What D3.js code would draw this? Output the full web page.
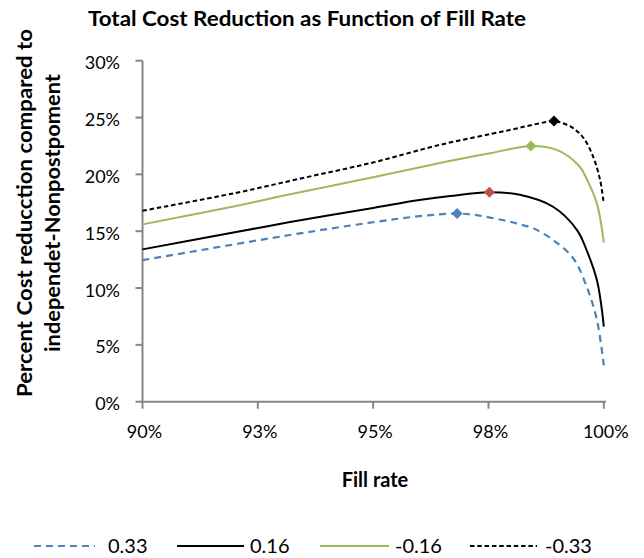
<!DOCTYPE html>
<html>
<head>
<meta charset="utf-8">
<script src="https://cdn.jsdelivr.net/npm/d3@7/dist/d3.min.js"></script>
<style>
  html, body { margin: 0; padding: 0; background: #fff; }
  svg { display: block; font-family: Lato, "Open Sans", sans-serif; }
</style>
</head>
<body>
<svg id="chart" width="644" height="558"></svg>
<script>
// Fill rate (x) and percent cost reduction (y, in %) for each tradeoff parameter
const fill033  = [0.900, 0.9325, 0.9493, 0.9608, 0.9682, 0.9717, 0.9753, 0.9790, 0.9818, 0.9847, 0.9891, 0.9934, 0.9963, 0.9985, 1.000];
const val033   = [12.45, 14.7, 15.75, 16.35, 16.55, 16.45, 16.2, 15.9, 15.6, 15.25, 14.2, 12.6, 10.1, 7.2, 3.2];

const fill016  = [0.900, 0.920, 0.932, 0.950, 0.960, 0.9667, 0.9752, 0.9818, 0.9890, 0.9942, 0.9964, 0.9985, 0.9995, 1.000];
const val016   = [13.4, 14.9, 15.8, 17.05, 17.75, 18.1, 18.42, 18.2, 17.15, 15.1, 13.2, 10.7, 8.35, 6.6];

const fillM016 = [0.900, 0.920, 0.932, 0.950, 0.9645, 0.9753, 0.9842, 0.9898, 0.9948, 0.9964, 0.9985, 1.000];
const valM016  = [15.6, 17.2, 18.25, 19.75, 21.0, 21.85, 22.5, 22.15, 20.67, 19.5, 17.45, 14.0];

const fillM033 = [0.900, 0.920, 0.935, 0.950, 0.9645, 0.9790, 0.9862, 0.9892, 0.9908, 0.9934, 0.9956, 0.9977, 0.9992, 1.000];
const valM033  = [16.8, 18.35, 19.7, 21.05, 22.6, 23.85, 24.5, 24.7, 24.55, 24.05, 23.2, 21.55, 19.5, 17.4];

// Optimal point marked on each curve: [fill rate, reduction %]
const optima = [[0.9682, 16.55], [0.9752, 18.42], [0.9842, 22.5], [0.9892, 24.7]];

const seriesNames = ["0.33", "0.16", "-0.16", "-0.33"];
const xTicks = [0.900, 0.925, 0.950, 0.975, 1.000];
const xTickLabels = ["90%", "93%", "95%", "98%", "100%"];
const yTicks = [0, 5, 10, 15, 20, 25, 30];

const title = "Total Cost Reduction as Function of Fill Rate";
const yTitle = ["Percent Cost reducction compared to", "independet-Nonpostpoment"];
const xTitle = "Fill rate";

const styles = [
  { stroke: "#4F81BD", width: 2.2, dash: "7,5",     marker: "#4F81BD" },
  { stroke: "#000000", width: 2.0, dash: null,      marker: "#C0504D" },
  { stroke: "#9BBB59", width: 2.0, dash: null,      marker: "#9BBB59" },
  { stroke: "#000000", width: 2.0, dash: "4.5,2.8", marker: "#000000" }
];

const fills = [fill033, fill016, fillM016, fillM033];
const vals  = [val033, val016, valM016, valM033];

const svg = d3.select("#chart");
const x = d3.scaleLinear().domain([0.9, 1.0]).range([142.5, 603.8]);
const y = d3.scaleLinear().domain([0, 30]).range([401.7, 60.7]);
const axisColor = "#868686";

// Title
svg.append("text")
  .attr("x", 307).attr("y", 26)
  .attr("text-anchor", "middle")
  .attr("font-weight", "bold").attr("font-size", 21.5)
  .attr("textLength", 438).attr("lengthAdjust", "spacingAndGlyphs")
  .attr("fill", "#000")
  .text(title);

// Y axis
const yAxisG = svg.append("g");
yAxisG.append("line")
  .attr("x1", x(0.9)).attr("x2", x(0.9))
  .attr("y1", y(0)).attr("y2", y(30))
  .attr("stroke", axisColor).attr("stroke-width", 2);
yAxisG.selectAll("line.tick").data(yTicks).join("line")
  .attr("class", "tick")
  .attr("x1", x(0.9) - 7).attr("x2", x(0.9))
  .attr("y1", d => y(d)).attr("y2", d => y(d))
  .attr("stroke", axisColor).attr("stroke-width", 2);
yAxisG.selectAll("text").data(yTicks).join("text")
  .attr("x", 120).attr("y", d => y(d) + 8.5)
  .attr("text-anchor", "end").attr("font-size", 18).attr("fill", "#000")
  .text(d => d + "%");

// X axis
const xAxisG = svg.append("g");
xAxisG.append("line")
  .attr("x1", x(0.9) - 1).attr("x2", x(1.0005))
  .attr("y1", y(0)).attr("y2", y(0))
  .attr("stroke", axisColor).attr("stroke-width", 2);
xAxisG.selectAll("line.tick").data(xTicks).join("line")
  .attr("class", "tick")
  .attr("x1", d => x(d)).attr("x2", d => x(d))
  .attr("y1", y(0)).attr("y2", y(0) + 7)
  .attr("stroke", axisColor).attr("stroke-width", 2);
xAxisG.selectAll("text").data(xTicks).join("text")
  .attr("x", d => x(d) + 2).attr("y", 438)
  .attr("text-anchor", "middle").attr("font-size", 18).attr("fill", "#000")
  .text((d, i) => xTickLabels[i]);

// Axis titles
svg.append("text")
  .attr("x", 375).attr("y", 487)
  .attr("text-anchor", "middle")
  .attr("font-weight", "bold").attr("font-size", 20)
  .text(xTitle);

const yt = svg.append("text")
  .attr("transform", "translate(0,213) rotate(-90)")
  .attr("text-anchor", "middle")
  .attr("font-weight", "bold").attr("font-size", 20.5);
yt.append("tspan").attr("x", 0).attr("y", 32)
  .attr("textLength", 368).attr("lengthAdjust", "spacingAndGlyphs")
  .text(yTitle[0]);
yt.append("tspan").attr("x", 0).attr("y", 60)
  .attr("textLength", 278).attr("lengthAdjust", "spacingAndGlyphs")
  .text(yTitle[1]);

// Smoothed curves
const line = d3.line()
  .x(d => x(d[0])).y(d => y(d[1]))
  .curve(d3.curveCatmullRom.alpha(0.5));

const plot = svg.append("g");
fills.forEach((f, i) => {
  const pts = f.map((fv, j) => [fv, vals[i][j]]);
  plot.append("path")
    .attr("d", line(pts))
    .attr("fill", "none")
    .attr("stroke", styles[i].stroke)
    .attr("stroke-width", styles[i].width)
    .attr("stroke-dasharray", styles[i].dash);
});

// Diamond markers at the optima
const diamond = d3.symbol().type(d3.symbolDiamond2).size(78);
plot.selectAll("path.opt").data(optima).join("path")
  .attr("class", "opt")
  .attr("transform", d => `translate(${x(d[0])},${y(d[1])})`)
  .attr("d", diamond)
  .attr("fill", (d, i) => styles[i].marker);

// Legend
const legendItems = [
  { x1: 34, x2: 95, tx: 108 },
  { x1: 177, x2: 244, tx: 250 },
  { x1: 320, x2: 389, tx: 395 },
  { x1: 470, x2: 537, tx: 545 }
];
const lg = svg.append("g");
legendItems.forEach((it, i) => {
  lg.append("line")
    .attr("x1", it.x1).attr("x2", it.x2)
    .attr("y1", 546).attr("y2", 546)
    .attr("stroke", styles[i].stroke)
    .attr("stroke-width", styles[i].width)
    .attr("stroke-dasharray", styles[i].dash);
  lg.append("text")
    .attr("x", it.tx).attr("y", 553)
    .attr("font-size", 20)
    .text(seriesNames[i]);
});
</script>
</body>
</html>
